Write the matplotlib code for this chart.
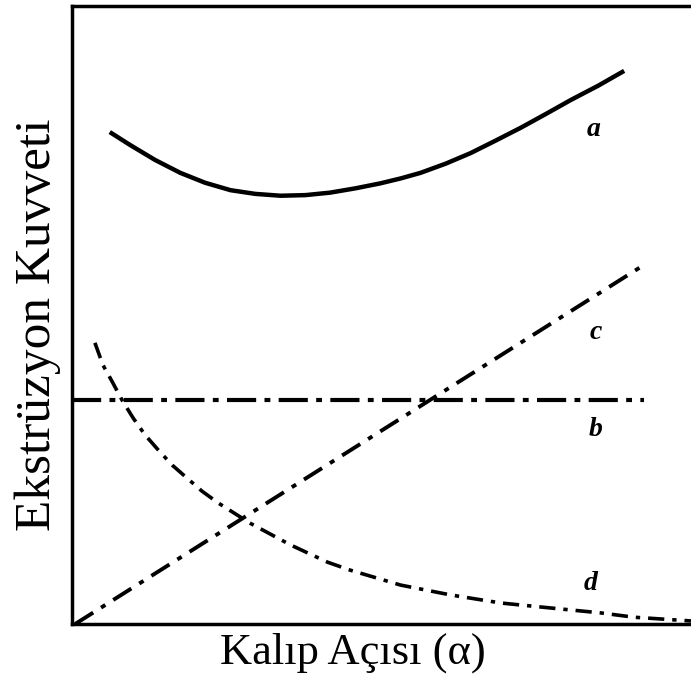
import matplotlib.pyplot as plt

# force curves, axis units 0..10
a_x = [0.61, 0.94, 1.34, 1.75, 2.15, 2.56, 2.96, 3.37, 3.77, 4.17, 4.58,
       4.98, 5.31, 5.63, 6.04, 6.44, 6.84, 7.25, 7.65, 8.06, 8.50, 8.92]
a_y = [7.96, 7.75, 7.51, 7.30, 7.14, 7.02, 6.96, 6.93, 6.94, 6.98, 7.05,
       7.13, 7.21, 7.30, 7.45, 7.62, 7.82, 8.03, 8.25, 8.48, 8.71, 8.95]

b_x = [0.0, 9.24]
b_y = [3.62, 3.62]

c_x = [0.05, 9.24]
c_y = [0.0, 5.81]

d_x = [0.37, 0.50, 0.65, 0.81, 0.99, 1.18, 1.39, 1.62, 1.86, 2.10, 2.36,
       2.88, 3.53, 4.13, 4.50, 5.31, 6.12, 6.93, 7.73, 8.54, 9.08, 10.0]
d_y = [4.55, 4.19, 3.92, 3.62, 3.33, 3.06, 2.82, 2.57, 2.36, 2.15, 1.96,
       1.63, 1.28, 1.00, 0.87, 0.63, 0.47, 0.34, 0.26, 0.18, 0.11, 0.05]

labels = ['a', 'c', 'b', 'd']
label_x = [8.43, 8.46, 8.46, 8.38]
label_y = [8.0, 4.71, 3.14, 0.66]

fig = plt.figure(figsize=(6.91, 6.89), dpi=100)
ax = fig.add_axes([0.1042, 0.0943, 0.8958, 0.897])

ax.plot(a_x, a_y, color='black', lw=3.2, solid_capstyle='butt')
ax.plot(b_x, b_y, color='black', lw=3.0, linestyle=(0, (7, 2, 1.4, 2)))
ax.plot(c_x, c_y, color='black', lw=2.8, linestyle=(0, (5.5, 2.4, 1.3, 2.4)))
ax.plot(d_x, d_y, color='black', lw=2.6, linestyle=(0, (4.5, 2.2, 1.2, 2.2)))

for t, x, y in zip(labels, label_x, label_y):
    ax.text(x, y, t, family='Liberation Serif', style='italic', weight='bold',
            fontsize=20, ha='center', va='center')

ax.set_xlim(0, 10)
ax.set_ylim(0, 10)
ax.set_xticks([])
ax.set_yticks([])
for s in ['left', 'bottom', 'top']:
    ax.spines[s].set_linewidth(2.5)
ax.spines['right'].set_visible(False)

fig.text(0.51, 1 - 653 / 689, 'Kalıp Açısı (α)', family='Liberation Serif',
         fontsize=32, ha='center', va='center')
fig.text(38 / 691, 1 - 325 / 689, 'Ekstrüzyon Kuvveti', family='Liberation Serif',
         fontsize=37, rotation=90, ha='center', va='center')

fig.savefig('out.png', dpi=100)
